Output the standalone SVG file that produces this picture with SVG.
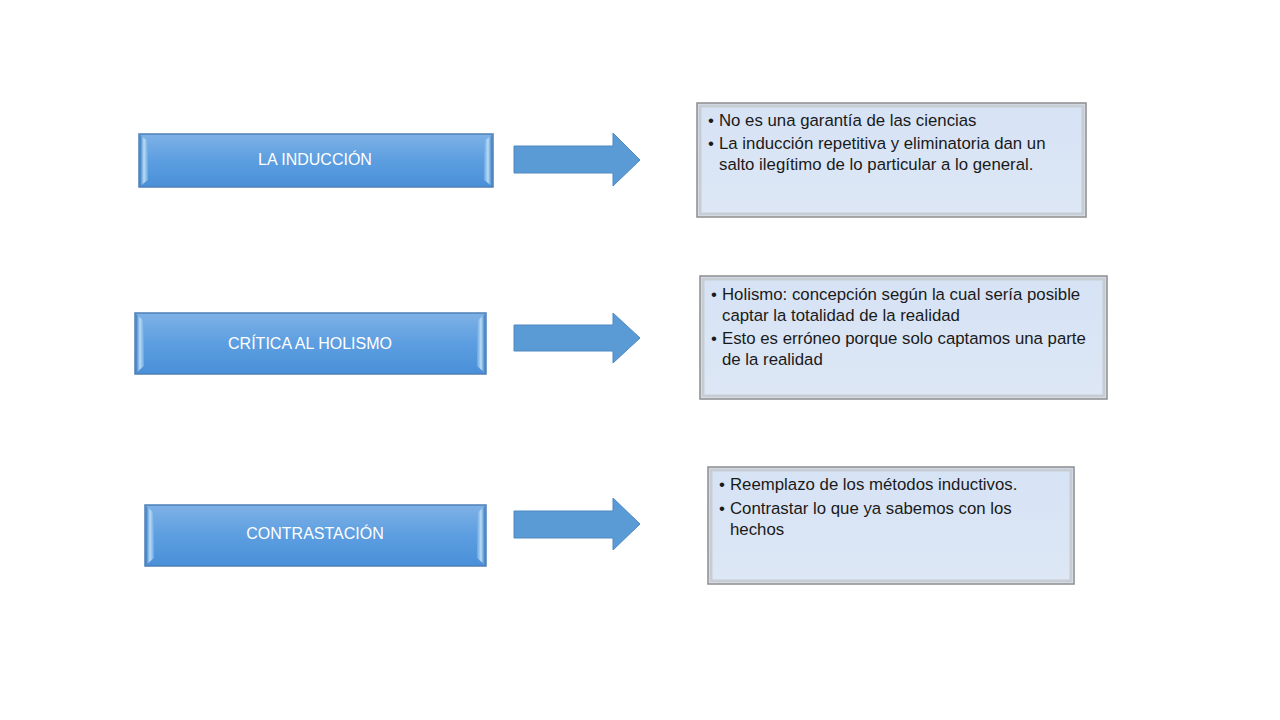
<svg xmlns="http://www.w3.org/2000/svg" width="1280" height="720" viewBox="0 0 1280 720">
<defs>
<linearGradient id="gBlue" x1="0" y1="0" x2="0" y2="1">
<stop offset="0" stop-color="#7fb2e6"/>
<stop offset="0.5" stop-color="#5c9ee0"/>
<stop offset="1" stop-color="#4a90d8"/>
</linearGradient>
<linearGradient id="gEdgeL" x1="0" y1="0" x2="1" y2="0">
<stop offset="0" stop-color="#3f7fc4"/>
<stop offset="0.5" stop-color="#b9dcf7"/>
<stop offset="1" stop-color="#6aa6e2"/>
</linearGradient>
<linearGradient id="gEdgeR" x1="0" y1="0" x2="1" y2="0">
<stop offset="0" stop-color="#6aa6e2"/>
<stop offset="0.5" stop-color="#b9dcf7"/>
<stop offset="1" stop-color="#3f7fc4"/>
</linearGradient>
<linearGradient id="gLight" x1="0" y1="0" x2="0" y2="1">
<stop offset="0" stop-color="#d6e3f5"/>
<stop offset="1" stop-color="#dde7f5"/>
</linearGradient>
</defs>
<style>
.lbox{fill:url(#gBlue);stroke:#4d80b8;stroke-width:1.5}
.lt{font-family:"Liberation Sans",Arial,sans-serif;font-size:16px;fill:#ffffff;text-anchor:middle}
.rbox{fill:url(#gLight);stroke:#8c8c8c;stroke-width:1.5}
.rin{fill:none;stroke:#c8cdd4;stroke-width:3}
.rt{font-family:"Liberation Sans",Arial,sans-serif;font-size:16.8px;fill:#1a1a1a}
.bu{font-family:"Liberation Sans",Arial,sans-serif;font-size:16.8px;fill:#1a1a1a;text-anchor:middle}
.arrow{fill:#5b9bd5;stroke:#4f88c0;stroke-width:1}
</style>
<rect width="1280" height="720" fill="#ffffff"/>

<g id="node-induccion">
<rect class="lbox" x="139" y="134" width="354" height="53"/>
<polygon points="140,135 148,141 148,180 140,186" fill="url(#gEdgeL)"/>
<polygon points="492,135 484,141 484,180 492,186" fill="url(#gEdgeR)"/>
<text class="lt" x="315" y="165">LA INDUCCIÓN</text>
</g>
<g id="node-holismo">
<rect class="lbox" x="135" y="313" width="351" height="61"/>
<polygon points="136,314 144,321 144,366 136,373" fill="url(#gEdgeL)"/>
<polygon points="485,314 477,321 477,366 485,373" fill="url(#gEdgeR)"/>
<text class="lt" x="310" y="349">CRÍTICA AL HOLISMO</text>
</g>
<g id="node-contrastacion">
<rect class="lbox" x="145" y="505" width="341" height="61"/>
<polygon points="146,506 154,513 154,558 146,565" fill="url(#gEdgeL)"/>
<polygon points="485,506 477,513 477,558 485,565" fill="url(#gEdgeR)"/>
<text class="lt" x="315" y="539">CONTRASTACIÓN</text>
</g>

<g id="connectors">
<polygon class="arrow" points="514,146 613,146 613,133 640,160 613,186 613,173 514,173"/>
<polygon class="arrow" points="514,325 613,325 613,313 640,338 613,363 613,351 514,351"/>
<polygon class="arrow" points="514,511 613,511 613,498 640,524 613,550 613,538 514,538"/>
</g>

<g id="node-detalle-induccion">
<rect class="rbox" x="697" y="103" width="389" height="114"/>
<rect class="rin" x="700" y="106" width="383" height="108"/>
<text class="bu" x="711" y="126">•</text>
<text class="rt" x="719" y="126">No es una garantía de las ciencias</text>
<text class="bu" x="711" y="149">•</text>
<text class="rt" x="719" y="149">La inducción repetitiva y eliminatoria dan un</text>
<text class="rt" x="719" y="170">salto ilegítimo de lo particular a lo general.</text>
</g>
<g id="node-detalle-holismo">
<rect class="rbox" x="700" y="276" width="407" height="123"/>
<rect class="rin" x="703" y="279" width="401" height="117"/>
<text class="bu" x="714" y="300">•</text>
<text class="rt" x="722" y="300">Holismo: concepción según la cual sería posible</text>
<text class="rt" x="722" y="321">captar la totalidad de la realidad</text>
<text class="bu" x="714" y="344">•</text>
<text class="rt" x="722" y="344">Esto es erróneo porque solo captamos una parte</text>
<text class="rt" x="722" y="365">de la realidad</text>
</g>
<g id="node-detalle-contrastacion">
<rect class="rbox" x="708" y="467" width="366" height="117"/>
<rect class="rin" x="711" y="470" width="360" height="111"/>
<text class="bu" x="722" y="490">•</text>
<text class="rt" x="730" y="490">Reemplazo de los métodos inductivos.</text>
<text class="bu" x="722" y="514">•</text>
<text class="rt" x="730" y="514">Contrastar lo que ya sabemos con los</text>
<text class="rt" x="730" y="535">hechos</text>
</g>
</svg>
